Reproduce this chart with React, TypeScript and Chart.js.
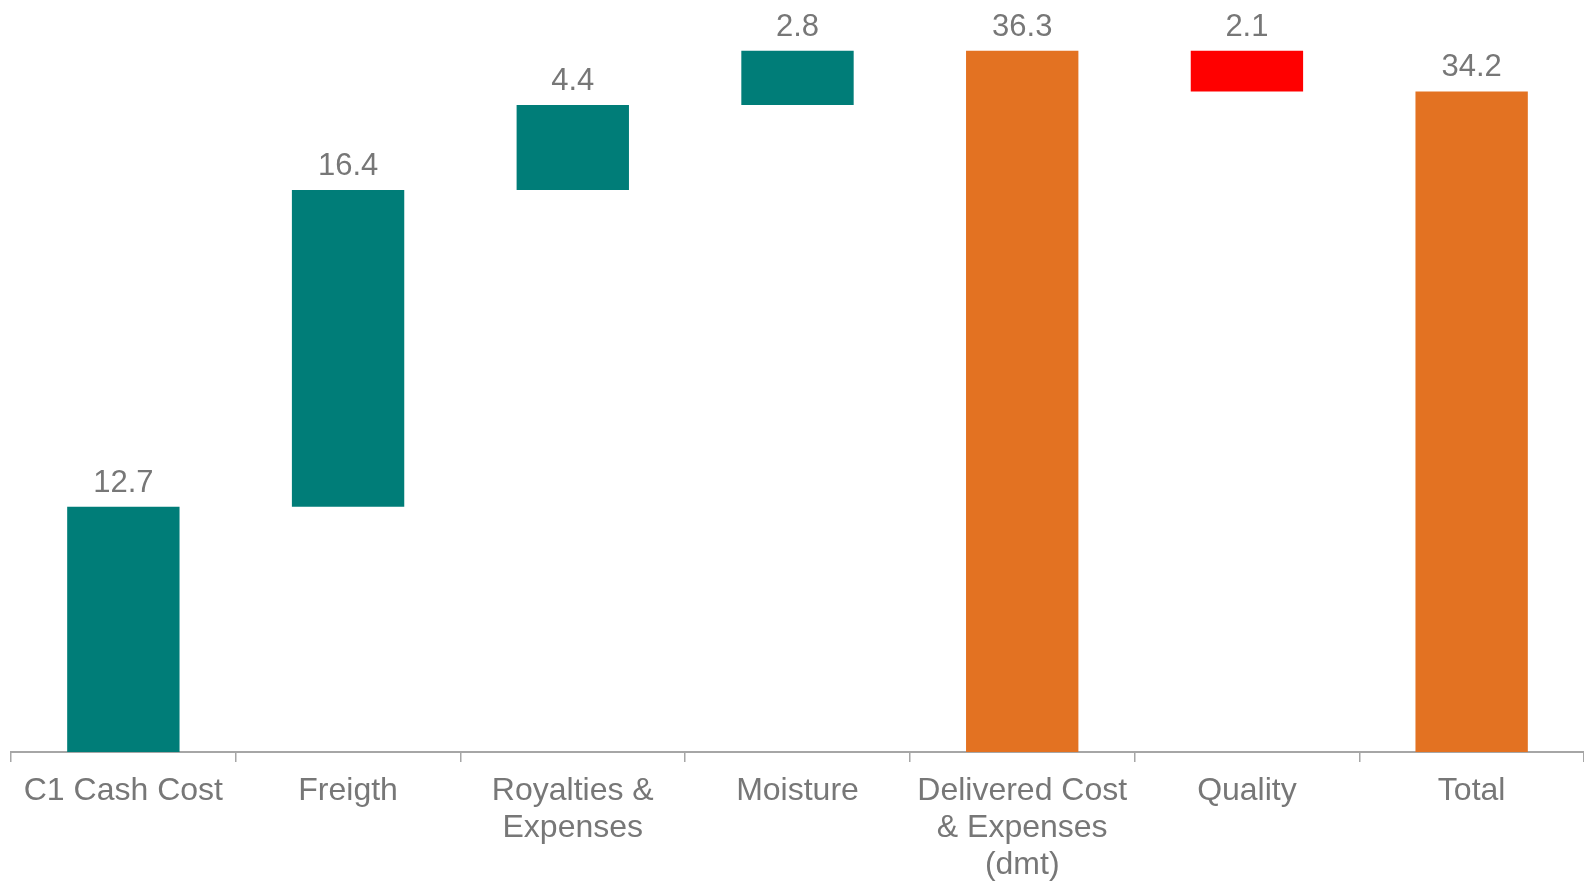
import React, { useEffect, useRef } from "react";
import { Chart, registerables } from "chart.js";

Chart.register(...registerables);

const categories: (string | string[])[] = [
  "C1 Cash Cost",
  "Freigth",
  ["Royalties &", "Expenses"],
  "Moisture",
  ["Delivered Cost", "& Expenses", "(dmt)"],
  "Quality",
  "Total",
];
const values = [12.7, 16.4, 4.4, 2.8, 36.3, -2.1, 34.2];
const kinds = ["step", "step", "step", "step", "total", "step", "total"];

const TEAL = "#007D78";
const ORANGE = "#E37222";
const RED = "#FF0000";
const TEXT = "#777777";
const AXIS = "#A6A6A6";
const FONT = "'Liberation Sans', Arial, sans-serif";

function buildRanges(): [number, number][] {
  let running = 0;
  return values.map((v, i) => {
    if (kinds[i] === "total") {
      running = v;
      return [0, v];
    }
    const r: [number, number] = [running, running + v];
    running += v;
    return r;
  });
}

function barColor(i: number) {
  if (kinds[i] === "total") return ORANGE;
  return values[i] < 0 ? RED : TEAL;
}

const labelPlugin = {
  id: "valueLabels",
  afterDatasetsDraw(chart: any) {
    const ctx = chart.ctx;
    const meta = chart.getDatasetMeta(0);
    ctx.save();
    ctx.font = `31px ${FONT}`;
    ctx.fillStyle = TEXT;
    ctx.textAlign = "center";
    ctx.textBaseline = "alphabetic";
    meta.data.forEach((el: any, i: number) => {
      const top = Math.min(el.y, el.base);
      ctx.fillText(Math.abs(values[i]).toFixed(1), el.x, top - 15);
    });
    ctx.restore();
  },
};

export default function App() {
  const ref = useRef<HTMLCanvasElement | null>(null);
  useEffect(() => {
    if (!ref.current) return;
    const chart = new Chart(ref.current, {
      type: "bar",
      data: {
        labels: categories as any,
        datasets: [
          {
            data: buildRanges() as any,
            backgroundColor: values.map((_, i) => barColor(i)),
            borderWidth: 0,
            categoryPercentage: 1,
            barPercentage: 0.5,
          },
        ],
      },
      options: {
        animation: false,
        responsive: false,
        maintainAspectRatio: false,
        layout: { padding: { left: 11, right: 0, top: 18, bottom: 0 } },
        plugins: {
          legend: { display: false },
          tooltip: { enabled: false },
        },
        scales: {
          y: { display: false, min: 0, max: 38 },
          x: {
            afterFit: (scale: any) => {
              scale.height = 134;
            },
            grid: {
              display: true,
              offset: true,
              drawOnChartArea: false,
              drawTicks: true,
              tickLength: 10,
              color: AXIS,
              lineWidth: 1.5,
            },
            border: { display: true, color: AXIS, width: 2 },
            ticks: {
              color: TEXT,
              font: { family: FONT, size: 32, lineHeight: 1.15 },
              padding: 11,
              maxRotation: 0,
              autoSkip: false,
            },
          },
        },
      },
      plugins: [labelPlugin],
    });
    return () => chart.destroy();
  }, []);
  return (
    <div style={{ position: "fixed", left: 0, top: 0, width: 1584, height: 886, background: "#fff" }}>
      <canvas ref={ref} width={1584} height={886} style={{ width: 1584, height: 886 }} />
    </div>
  );
}
